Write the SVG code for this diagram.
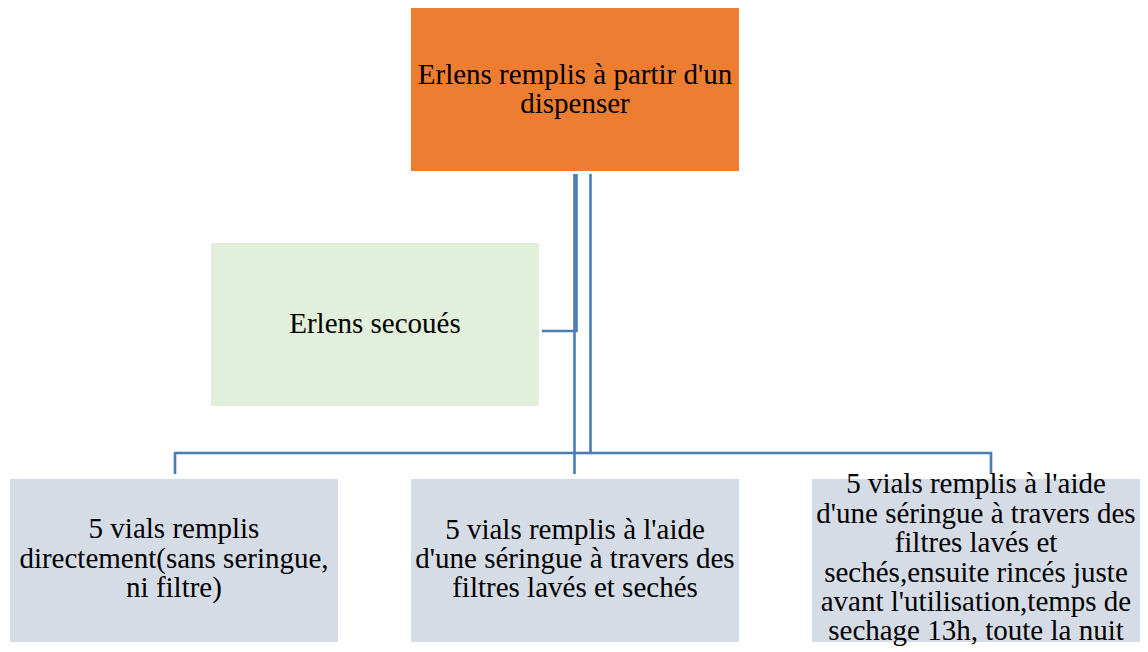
<svg xmlns="http://www.w3.org/2000/svg" width="1148" height="652" viewBox="0 0 1148 652">
<style>
.t{font-size:29px;fill:#000;text-anchor:middle}
.c{fill:none;stroke:#4b7db5;stroke-width:2.6}
</style>
<rect width="1148" height="652" fill="#fff"/>
<g id="connectors">
<path class="c" d="M576.5 174 V331 H542"/>
<path class="c" d="M574.5 174 V474"/>
<path class="c" d="M575 453 H175 V474"/>
<path class="c" d="M590.5 174 V453 H991 V474"/>
<path class="c" d="M575 453 H590"/>
</g>
<g font-family="'Liberation Serif', 'Times New Roman', Tinos, 'DejaVu Serif', serif">
<g id="n1">
<rect x="411" y="8" width="328" height="163" fill="#ed7d31"/>
<text class="t" x="575" y="84">Erlens remplis à partir d'un</text>
<text class="t" x="575" y="113">dispenser</text>
</g>
<g id="n2">
<rect x="211" y="243" width="328" height="163" fill="#e2efda"/>
<text class="t" x="375" y="333">Erlens secoués</text>
</g>
<g id="n3">
<rect x="10" y="479" width="328" height="163" fill="#d6dce5"/>
<text class="t" x="174" y="538">5 vials remplis</text>
<text class="t" x="174" y="568">directement(sans seringue,</text>
<text class="t" x="174" y="597">ni filtre)</text>
</g>
<g id="n4">
<rect x="411" y="479" width="328" height="163" fill="#d6dce5"/>
<text class="t" x="575" y="539">5 vials remplis à l'aide</text>
<text class="t" x="575" y="568">d'une séringue à travers des</text>
<text class="t" x="575" y="597">filtres lavés et sechés</text>
</g>
<g id="n5">
<rect x="812" y="479" width="328" height="163" fill="#d6dce5"/>
<text class="t" x="976" y="493">5 vials remplis à l'aide</text>
<text class="t" x="976" y="523">d'une séringue à travers des</text>
<text class="t" x="976" y="552">filtres lavés et</text>
<text class="t" x="976" y="582">sechés,ensuite rincés juste</text>
<text class="t" x="976" y="611">avant l'utilisation,temps de</text>
<text class="t" x="976" y="640">sechage 13h, toute la nuit</text>
</g>
</g>
</svg>
